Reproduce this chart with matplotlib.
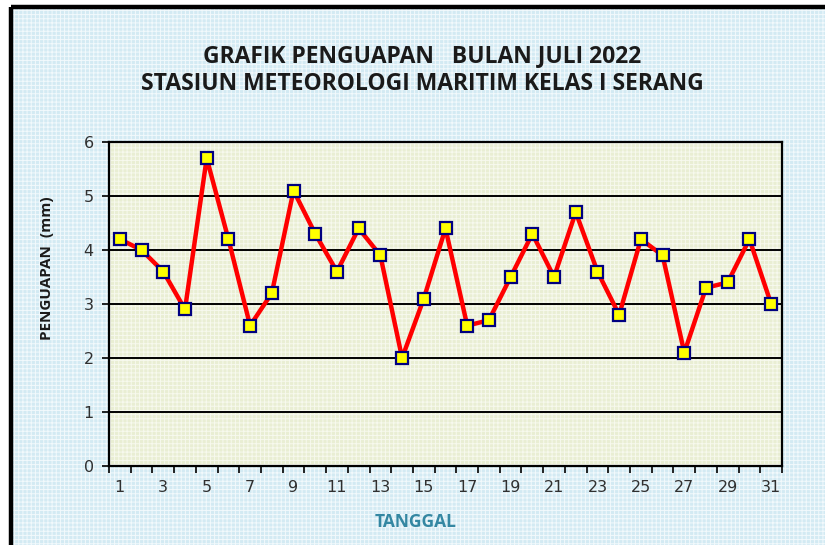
import matplotlib
matplotlib.use("Agg")
import matplotlib.pyplot as plt
from matplotlib.patches import Rectangle
from matplotlib.lines import Line2D

# Penguapan harian, Juli 2022
tanggal = list(range(1, 32))
penguapan = [4.2, 4.0, 3.6, 2.9, 5.7, 4.2, 2.6, 3.2, 5.1, 4.3, 3.6, 4.4, 3.9, 2.0, 3.1,
             4.4, 2.6, 2.7, 3.5, 4.3, 3.5, 4.7, 3.6, 2.8, 4.2, 3.9, 2.1, 3.3, 3.4, 4.2, 3.0]
label_x = [str(t) for t in tanggal if t % 2 == 1]
y_ticks = [0, 1, 2, 3, 4, 5, 6]

judul = "GRAFIK PENGUAPAN   BULAN JULI 2022\nSTASIUN METEOROLOGI MARITIM KELAS I SERANG"

plt.rcParams['hatch.linewidth'] = 0.7

fig = plt.figure(figsize=(8.25, 5.45), dpi=100)
fig.patch.set_facecolor("white")

# latar belakang area grafik (biru muda bertekstur) dan bingkai hitam
fx0, fy1 = 11 / 825, 1 - 7 / 545
bg = Rectangle((fx0, 0), 1 - fx0, fy1, transform=fig.transFigure,
               facecolor="#d3eaf3", edgecolor="#f2f9fc", hatch="++++",
               linewidth=0, zorder=-10)
fig.patches.append(bg)
fig.lines.append(Line2D([fx0, 1], [fy1, fy1], transform=fig.transFigure,
                        color="black", linewidth=3.2, solid_capstyle="butt"))
fig.lines.append(Line2D([fx0, fx0], [0, fy1], transform=fig.transFigure,
                        color="black", linewidth=3.2, solid_capstyle="butt"))

ax = fig.add_axes([109 / 825, 1 - 466 / 545, 673 / 825, 324 / 545])
ax.patch.set_facecolor("#e9eed3")
ax.patch.set_edgecolor("#f7f9ee")
ax.patch.set_hatch("++++")
ax.patch.set_linewidth(0)

for v in y_ticks[1:]:
    ax.axhline(v, color="black", linewidth=1.4, zorder=1)

ax.plot(tanggal, penguapan, color="#ff0000", linewidth=3.2, zorder=3,
        marker="s", markersize=8.5, markerfacecolor="#ffff00",
        markeredgecolor="#000080", markeredgewidth=1.6, clip_on=False)

ax.set_xlim(0.5, 31.5)
ax.set_ylim(0, 6)

# tick di batas antar kategori, label di tanggal ganjil
ax.set_xticks([t - 0.5 for t in tanggal] + [31.5])
ax.set_xticklabels([])
ax.set_xticks([t for t in tanggal if t % 2 == 1], minor=True)
ax.set_xticklabels(label_x, minor=True)
ax.tick_params(axis="x", which="major", direction="out", length=5, width=1.2, color="black")
ax.tick_params(axis="x", which="minor", length=0, pad=10, labelsize=11.5, labelcolor="#303030")
ax.set_yticks(y_ticks)
ax.tick_params(axis="y", direction="out", length=5, width=1.2, pad=6,
               labelsize=11.5, labelcolor="#303030")

for s in ax.spines.values():
    s.set_color("black")
    s.set_linewidth(1.6)

fig.text(422 / 825, 1 - 70 / 545, judul, ha="center", va="center",
         fontsize=16.5, fontweight="bold", family="Open Sans", color="#1a1a1a",
         linespacing=1.25)
fig.text(47 / 825, 1 - 268 / 545, "PENGUAPAN  (mm)", rotation=90, ha="center",
         va="center", fontsize=11, fontweight="bold", family="Open Sans", color="#1a1a1a")
fig.text(416 / 825, 1 - 522 / 545, "TANGGAL", ha="center", va="center",
         fontsize=12.5, fontweight="bold", family="Open Sans", color="#3487a2")

fig.savefig("out.png", dpi=100)
